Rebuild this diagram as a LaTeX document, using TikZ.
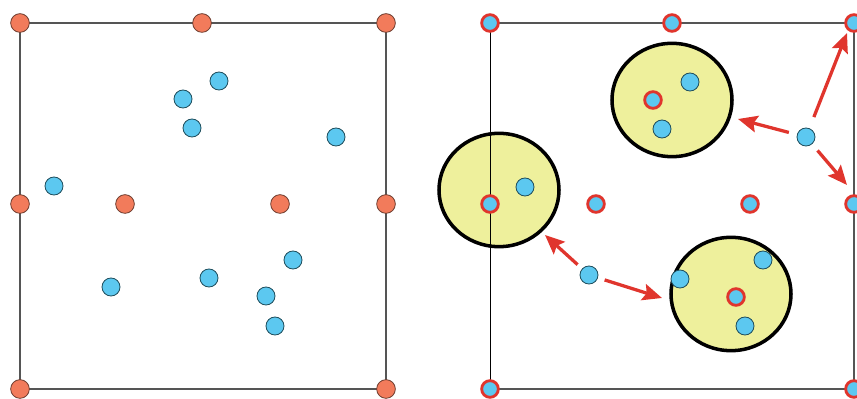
\documentclass[tikz,border=0pt]{standalone}
\usetikzlibrary{shapes.geometric,arrows.meta}
\definecolor{orfill}{HTML}{F27B5B}
\definecolor{ordraw}{HTML}{6B3B2E}
\definecolor{blfill}{HTML}{5CC8F0}
\definecolor{bldraw}{HTML}{1E4D5C}
\definecolor{ring}{HTML}{E0352D}
\definecolor{yel}{HTML}{EEF09C}
\definecolor{boxgrey}{HTML}{555555}
\tikzset{
  odot/.style={circle,fill=orfill,draw=ordraw,line width=0.7pt,minimum size=0.56cm,inner sep=0pt},
  bdot/.style={circle,fill=blfill,draw=bldraw,line width=0.7pt,minimum size=0.54cm,inner sep=0pt},
  rdot/.style={circle,fill=blfill,draw=ring,line width=2.4pt,minimum size=0.5cm,inner sep=0pt},
  ell/.style={ellipse,fill=yel,draw=black,line width=3pt,minimum width=3.6cm,minimum height=3.4cm,inner sep=0pt},
  arr/.style={draw=ring,line width=2.8pt,-{Stealth[length=0.58cm,width=0.5cm,inset=0.1cm]},shorten <=0.25cm},
}
\begin{document}
\begin{tikzpicture}[x=0.03cm,y=-0.03cm]
\useasboundingbox (0,0) rectangle (857,399);
% left panel
\draw[boxgrey,line width=1.5pt] (20,23) rectangle (386,389);
\node[bdot] (lb1) at (219,81) {};
\node[bdot] (lb2) at (183,99) {};
\node[bdot] (lb3) at (192,128) {};
\node[bdot] (lb4) at (336,137) {};
\node[bdot] (lb5) at (54,186) {};
\node[bdot] (lb6) at (293,260) {};
\node[bdot] (lb7) at (209,278) {};
\node[bdot] (lb8) at (111,287) {};
\node[bdot] (lb9) at (266,296) {};
\node[bdot] (lb10) at (275,326) {};
\node[odot] (lo1) at (20,23) {};
\node[odot] (lo2) at (202,23) {};
\node[odot] (lo3) at (386,23) {};
\node[odot] (lo4) at (20,204) {};
\node[odot] (lo5) at (125,204) {};
\node[odot] (lo6) at (280,204) {};
\node[odot] (lo7) at (386,204) {};
\node[odot] (lo8) at (20,389) {};
\node[odot] (lo9) at (386,389) {};
% right panel
\node[ell] (c1) at (499,190) {};
\node[ell] (c2) at (672,100) {};
\node[ell] (c3) at (731,294) {};
\draw[boxgrey,line width=1.2pt] (490,23) -- (854,23);
\draw[boxgrey,line width=1.2pt] (490,389) -- (854,389);
\draw[black,line width=0.8pt] (490,23) -- (490,389);
\draw[boxgrey,line width=2.2pt] (854,23) -- (854,389);
\node[rdot] (r1) at (490,23) {};
\node[rdot] (r2) at (672,23) {};
\node[rdot] (r3) at (854,23) {};
\node[rdot] (r4) at (490,204) {};
\node[rdot] (r5) at (596,204) {};
\node[rdot] (r6) at (750,204) {};
\node[rdot] (r7) at (854,204) {};
\node[rdot] (r8) at (490,389) {};
\node[rdot] (r9) at (854,389) {};
\node[bdot] (k1) at (525,187) {};
\node[rdot] (k2) at (653,100) {};
\node[bdot] (k3) at (690,82) {};
\node[bdot] (k4) at (662,129) {};
\node[bdot] (k5) at (763,260) {};
\node[bdot] (k6) at (680,279) {};
\node[rdot] (k7) at (736,297) {};
\node[bdot] (k8) at (745,326) {};
\node[bdot] (b1) at (806,137) {};
\node[bdot] (b2) at (589,275) {};
\coordinate (t1) at (847,33);
\coordinate (t2) at (738,119);
\coordinate (t3) at (847,185);
\coordinate (t4) at (545,235);
\coordinate (t5) at (662,298);
\draw[arr,shorten <=0.36cm] (b1) -- (t1);
\draw[arr] (b1) -- (t2);
\draw[arr] (b1) -- (t3);
\draw[arr,shorten <=0.18cm] (b2) -- (t4);
\draw[arr,shorten <=0.21cm] (b2) -- (t5);
\end{tikzpicture}
\end{document}
